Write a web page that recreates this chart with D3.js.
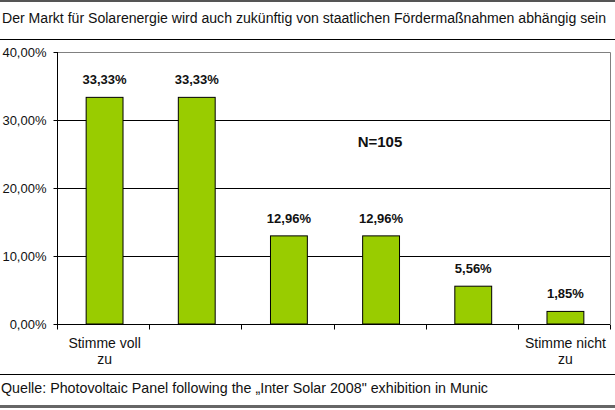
<!DOCTYPE html>
<html>
<head>
<meta charset="utf-8">
<script src="https://cdn.jsdelivr.net/npm/d3@7"></script>
<style>
  html, body { margin: 0; padding: 0; background: #fff; }
  svg { display: block; font-family: "Liberation Sans", Arial, sans-serif; }
</style>
</head>
<body>
<div id="chart"></div>
<script>
// data
const categories = ["1", "2", "3", "4", "5", "6"];
const categoryLabels = [["Stimme voll", "zu"], [], [], [], [], ["Stimme nicht", "zu"]];
const values = [33.33, 33.33, 12.96, 12.96, 5.56, 1.85];
const yTicks = [0, 10, 20, 30, 40];
const title = "Der Markt für Solarenergie wird auch zukünftig von staatlichen Fördermaßnahmen abhängig sein";
const source = "Quelle: Photovoltaic Panel following the \u201EInter Solar 2008\" exhibition in Munic";
const note = "N=105";

const width = 615, height = 410;
const plot = {left: 57, right: 610, top: 52, bottom: 324};

const svg = d3.select("#chart").append("svg")
    .attr("width", width)
    .attr("height", height);

/* frame lines */
svg.append("rect").attr("x", 0).attr("y", 0).attr("width", width).attr("height", 2).attr("fill", "#555");
svg.append("rect").attr("x", 0).attr("y", 405).attr("width", width).attr("height", 3).attr("fill", "#666");
svg.append("line").attr("x1", 0).attr("x2", width).attr("y1", 39.5).attr("y2", 39.5)
    .attr("stroke", "#000").attr("stroke-width", 1);
svg.append("line").attr("x1", 0).attr("x2", width).attr("y1", 374.5).attr("y2", 374.5)
    .attr("stroke", "#000").attr("stroke-width", 1);

/* title + source */
svg.append("text")
    .attr("x", 2).attr("y", 23)
    .attr("textLength", 604).attr("lengthAdjust", "spacingAndGlyphs")
    .style("font-size", "14px").style("fill", "#111")
    .text(title);

svg.append("text")
    .attr("x", 1).attr("y", 393)
    .attr("textLength", 487).attr("lengthAdjust", "spacingAndGlyphs")
    .style("font-size", "14.5px").style("fill", "#111")
    .text(source);

/* scales */
const x = d3.scaleBand()
    .domain(categories)
    .range([plot.left, plot.right])
    .paddingInner(0.6)
    .paddingOuter(0.3);

const y = d3.scaleLinear()
    .domain([0, 40])
    .range([plot.bottom, plot.top]);

const fmt = v => v.toFixed(2).replace(".", ",") + "%";

/* grid */
svg.append("g")
    .selectAll("line")
    .data(yTicks.filter(t => t > 0 && t < 40))
    .join("line")
    .attr("x1", plot.left).attr("x2", plot.right)
    .attr("y1", d => Math.round(y(d)) + 0.5).attr("y2", d => Math.round(y(d)) + 0.5)
    .attr("stroke", "#000");

// plot border (top, right) in grey
svg.append("path")
    .attr("d", `M${plot.left},${plot.top + 0.5}H${plot.right + 0.5}V${plot.bottom}`)
    .attr("fill", "none")
    .attr("stroke", "#808080");

/* bars */
svg.append("g")
    .selectAll("rect")
    .data(values)
    .join("rect")
    .attr("x", (d, i) => x(categories[i]) + 1.5)
    .attr("y", d => y(d))
    .attr("width", x.bandwidth())
    .attr("height", d => y(0) - y(d))
    .attr("fill", "#99cc00")
    .attr("stroke", "#000")
    .attr("stroke-width", 1);

/* value labels */
svg.append("g")
    .selectAll("text")
    .data(values)
    .join("text")
    .attr("x", (d, i) => x(categories[i]) + 1.5 + x.bandwidth() / 2)
    .attr("y", d => y(d) - 13)
    .attr("text-anchor", "middle")
    .style("font-size", "13px")
    .style("font-weight", "700")
    .style("fill", "#111")
    .text(fmt);

/* y axis */
const yAxis = svg.append("g")
    .attr("transform", `translate(${plot.left + 0.5},0)`)
    .call(d3.axisLeft(y).tickValues(yTicks).tickSize(4).tickPadding(7).tickFormat(fmt));
yAxis.select(".domain").attr("d", `M0,${plot.top}V${plot.bottom}`).attr("stroke", "#000");
yAxis.selectAll("line").attr("stroke", "#000");
yAxis.selectAll("text")
    .style("font-size", "13px")
    .style("fill", "#111")
    .style("font-family", "'Liberation Sans', Arial, sans-serif");

/* x axis: ticks at category boundaries */
const boundaries = categories.map(c => x(c) - x.step() * x.paddingInner() / 2);
boundaries.push(plot.right);
const xAxis = svg.append("g")
    .attr("transform", `translate(0,${plot.bottom + 0.5})`);
xAxis.append("line")
    .attr("x1", plot.left).attr("x2", plot.right)
    .attr("stroke", "#000");
xAxis.selectAll(".tick")
    .data(boundaries)
    .join("line")
    .attr("class", "tick")
    .attr("x1", d => Math.round(d) + 0.5).attr("x2", d => Math.round(d) + 0.5)
    .attr("y1", 0).attr("y2", 5)
    .attr("stroke", "#000");

/* category labels */
const catG = svg.append("g");
categories.forEach((c, i) => {
    categoryLabels[i].forEach((line, j) => {
        catG.append("text")
            .attr("x", x(c) + 1.5 + x.bandwidth() / 2)
            .attr("y", 348 + j * 16)
            .attr("text-anchor", "middle")
            .style("font-size", "14px")
            .style("fill", "#111")
            .text(line);
    });
});

/* N note */
svg.append("text")
    .attr("x", 380).attr("y", 147)
    .attr("text-anchor", "middle")
    .style("font-size", "15px")
    .style("font-weight", "700")
    .style("fill", "#111")
    .text(note);
</script>
</body>
</html>
